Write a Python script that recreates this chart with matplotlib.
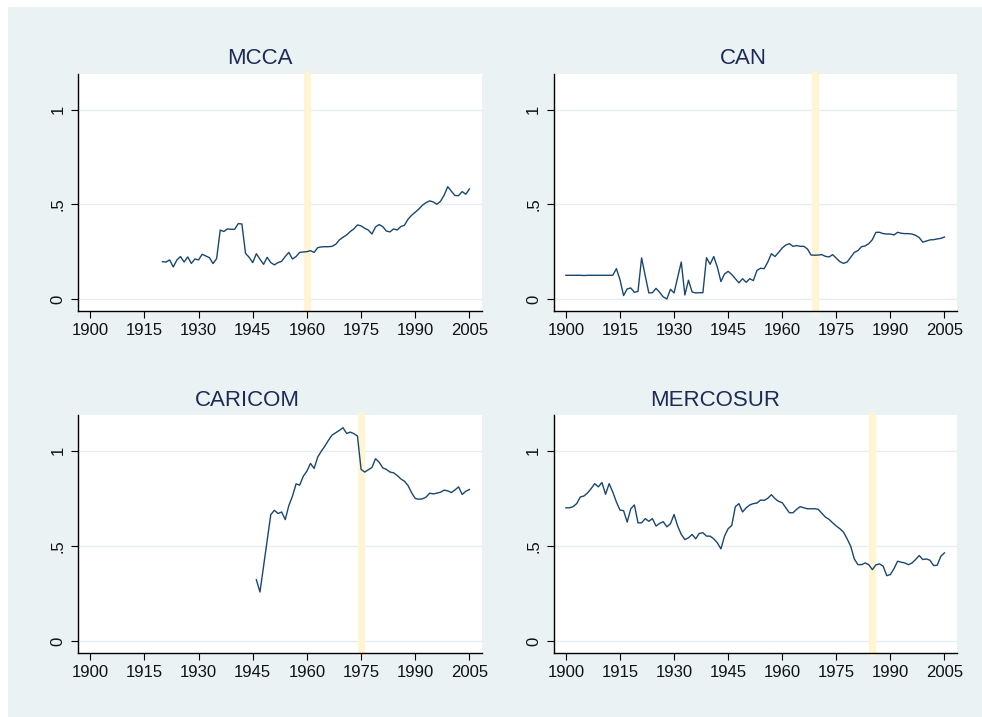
import matplotlib
matplotlib.use("Agg")
import matplotlib.pyplot as plt
from matplotlib.patches import Rectangle
import numpy as np

plt.rcParams['font.family'] = ['Liberation Sans', 'DejaVu Sans']

# ---------------- data ----------------
mcca_start = 1920
mcca_values = [0.197, 0.195, 0.206, 0.169, 0.206, 0.224, 0.195, 0.222, 0.188, 0.211,
               0.206, 0.236, 0.227, 0.218, 0.187, 0.213, 0.364, 0.356, 0.370, 0.368,
               0.368, 0.398, 0.396, 0.241, 0.220, 0.192, 0.239, 0.210, 0.183, 0.220,
               0.192, 0.180, 0.192, 0.199, 0.224, 0.246, 0.211, 0.224, 0.246, 0.248,
               0.250, 0.255, 0.246, 0.271, 0.275, 0.276, 0.276, 0.278, 0.289, 0.312,
               0.326, 0.338, 0.356, 0.370, 0.391, 0.386, 0.373, 0.364, 0.343, 0.380,
               0.393, 0.382, 0.359, 0.354, 0.370, 0.364, 0.382, 0.389, 0.421, 0.442,
               0.458, 0.475, 0.495, 0.509, 0.518, 0.512, 0.500, 0.516, 0.548, 0.593,
               0.569, 0.546, 0.546, 0.567, 0.553, 0.581]

can_start = 1900
can_values = [0.125, 0.125, 0.125, 0.125, 0.125, 0.124, 0.125, 0.125, 0.125, 0.125,
              0.125, 0.125, 0.125, 0.125, 0.160, 0.102, 0.018, 0.053, 0.058, 0.035,
              0.040, 0.217, 0.123, 0.032, 0.033, 0.056, 0.035, 0.011, 0.000, 0.051,
              0.032, 0.114, 0.195, 0.021, 0.099, 0.037, 0.032, 0.033, 0.033, 0.218,
              0.183, 0.224, 0.169, 0.092, 0.132, 0.146, 0.129, 0.107, 0.085, 0.107,
              0.088, 0.107, 0.097, 0.151, 0.162, 0.160, 0.195, 0.239, 0.224, 0.246,
              0.269, 0.285, 0.292, 0.278, 0.282, 0.278, 0.278, 0.264, 0.232, 0.231,
              0.232, 0.234, 0.225, 0.222, 0.234, 0.215, 0.197, 0.188, 0.195, 0.220,
              0.246, 0.255, 0.276, 0.280, 0.292, 0.313, 0.352, 0.352, 0.345, 0.343,
              0.343, 0.338, 0.352, 0.347, 0.345, 0.345, 0.343, 0.336, 0.324, 0.300,
              0.306, 0.312, 0.313, 0.317, 0.320, 0.327]

caricom_years = [1946, 1947, 1950, 1951, 1952, 1953, 1954, 1955, 1956, 1957,
                 1958, 1959, 1960, 1961, 1962, 1963, 1964, 1965, 1966, 1967,
                 1968, 1969, 1970, 1971, 1972, 1973, 1974, 1975, 1976, 1977,
                 1978, 1979, 1980, 1981, 1982, 1983, 1984, 1985, 1986, 1987,
                 1988, 1989, 1990, 1991, 1992, 1993, 1994, 1995, 1996, 1997,
                 1998, 1999, 2000, 2001, 2002, 2003, 2004, 2005]
caricom_values = [0.322, 0.257, 0.664, 0.687, 0.670, 0.678, 0.638, 0.712, 0.761, 0.826,
                  0.819, 0.866, 0.893, 0.933, 0.907, 0.967, 0.998, 1.025, 1.056, 1.083,
                  1.095, 1.107, 1.121, 1.091, 1.098, 1.090, 1.077, 0.902, 0.888, 0.900,
                  0.912, 0.958, 0.940, 0.910, 0.902, 0.888, 0.884, 0.870, 0.852, 0.840,
                  0.817, 0.779, 0.749, 0.745, 0.747, 0.756, 0.777, 0.773, 0.777, 0.782,
                  0.793, 0.789, 0.780, 0.794, 0.810, 0.770, 0.787, 0.796]

mercosur_start = 1900
mercosur_values = [0.700, 0.700, 0.706, 0.722, 0.757, 0.762, 0.778, 0.801, 0.827, 0.810,
                   0.833, 0.771, 0.827, 0.783, 0.731, 0.688, 0.685, 0.625, 0.695, 0.715,
                   0.621, 0.621, 0.643, 0.629, 0.643, 0.604, 0.618, 0.627, 0.600, 0.616,
                   0.665, 0.604, 0.560, 0.533, 0.542, 0.560, 0.537, 0.565, 0.569, 0.551,
                   0.551, 0.537, 0.516, 0.484, 0.551, 0.590, 0.607, 0.706, 0.722, 0.678,
                   0.700, 0.715, 0.722, 0.725, 0.741, 0.739, 0.750, 0.769, 0.748, 0.734,
                   0.727, 0.700, 0.674, 0.674, 0.692, 0.706, 0.700, 0.695, 0.695, 0.695,
                   0.692, 0.671, 0.651, 0.639, 0.621, 0.604, 0.590, 0.572, 0.537, 0.498,
                   0.431, 0.401, 0.401, 0.410, 0.401, 0.375, 0.400, 0.405, 0.393, 0.343,
                   0.349, 0.380, 0.419, 0.414, 0.410, 0.401, 0.410, 0.428, 0.449, 0.428,
                   0.431, 0.424, 0.396, 0.398, 0.445, 0.463]

titles = ["MCCA", "CAN", "CARICOM", "MERCOSUR"]
agreement_years = [1960, 1969, 1975, 1985]
xtick_values = [1900, 1915, 1930, 1945, 1960, 1975, 1990, 2005]
ytick_values = [0, 0.5, 1]
ytick_labels = ["0", ".5", "1"]

series = [
    (mcca_start + np.arange(len(mcca_values)), mcca_values),
    (can_start + np.arange(len(can_values)), can_values),
    (np.array(caricom_years), caricom_values),
    (mercosur_start + np.arange(len(mercosur_values)), mercosur_values),
]

# ---------------- figure ----------------
W, H = 982, 717
fig = plt.figure(figsize=(W / 100, H / 100), dpi=100, facecolor="white")
bg = "#EAF2F3"
fig.patches.append(Rectangle((8 / W, 0), 1 - 8 / W, 1 - 7 / H,
                             transform=fig.transFigure, facecolor=bg,
                             edgecolor="none", zorder=-10))

def px_rect(l, t, r, b):
    return [l / W, 1 - b / H, (r - l) / W, (b - t) / H]

rects = [px_rect(78.3, 74, 481.7, 310.7), px_rect(554, 74, 956.7, 310.7),
         px_rect(78.3, 415, 481.7, 652.7), px_rect(554, 415, 956.7, 652.7)]
title_pos = [(259.5, 64), (743, 64), (247.5, 406), (714.7, 406)]

line_color = "#1A476F"
for i in range(4):
    ax = fig.add_axes(rects[i])
    ax.set_facecolor("white")
    x, y = series[i]
    ax.set_xlim(1896.7, 2008.4)
    ax.set_ylim(-0.062, 1.188)
    for yv in ytick_values:
        ax.axhline(yv, color="#E6EEF0", lw=1.0, zorder=0.5)
    ax.plot([agreement_years[i]] * 2, [-0.062, 1.188], color="#FFF5D2",
            lw=5.2, solid_capstyle="round", zorder=1, clip_on=False)
    ax.plot(x, y, color=line_color, lw=1.0, zorder=3)
    ax.set_xticks(xtick_values)
    ax.set_xticklabels([str(v) for v in xtick_values])
    ax.set_yticks(ytick_values)
    ax.set_yticklabels(ytick_labels, rotation=90, va="center")
    ax.tick_params(axis="both", length=5.2, width=0.8, color="black",
                   labelsize=12, labelcolor="#111111")
    ax.tick_params(axis="x", pad=3.5)
    ax.tick_params(axis="y", pad=4)
    for s in ["top", "right"]:
        ax.spines[s].set_visible(False)
    for s in ["left", "bottom"]:
        ax.spines[s].set_color("black")
        ax.spines[s].set_linewidth(1.0)
    tx, ty = title_pos[i]
    fig.text(tx / W, 1 - ty / H, titles[i], ha="center", va="baseline",
             fontsize=16, color="#1C2A57")

fig.savefig("out.png", dpi=100, facecolor="white")
